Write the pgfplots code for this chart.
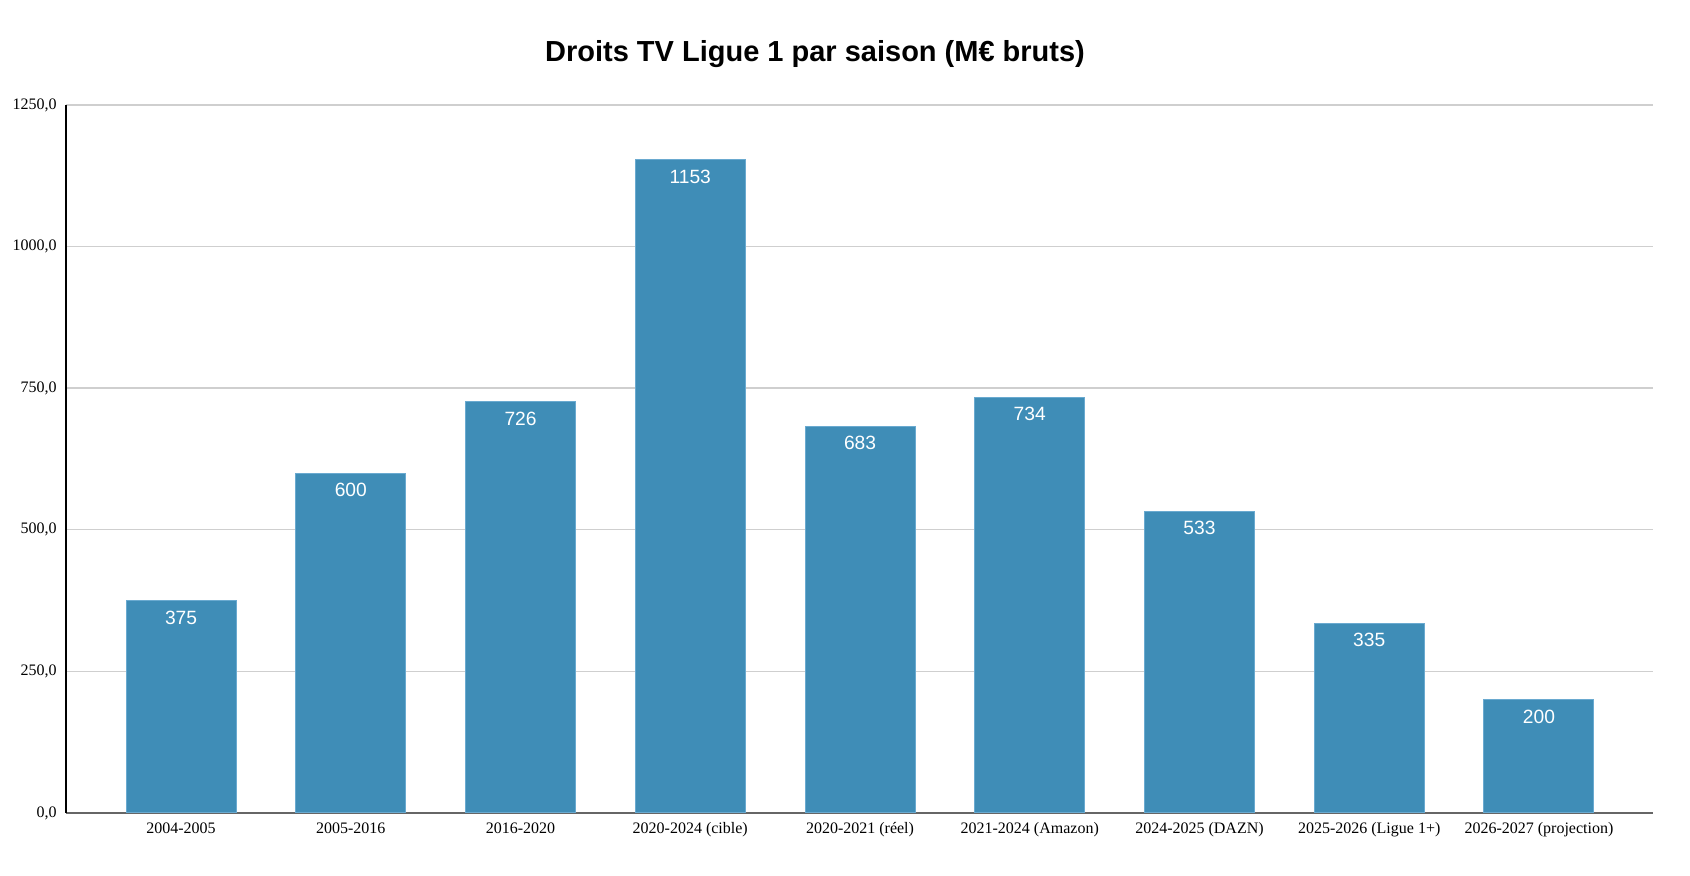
\documentclass[border=0pt]{standalone}
\usepackage{pgfplots}
\pgfplotsset{compat=1.18}
\usepackage{fontspec}
\setmainfont{Liberation Serif}
\newfontfamily\arial{Liberation Sans}
\definecolor{barblue}{HTML}{3F8DB7}
\definecolor{baredge}{HTML}{6AAAD0}
\definecolor{gridgray}{HTML}{CFCFCF}
\definecolor{axisgray}{HTML}{666666}
\begin{document}
\begin{tikzpicture}
\begin{axis}[
  at={(0,0)}, anchor=south west,
  scale only axis,
  width=793.5pt, height=354pt,
  xmin=-0.678, xmax=8.672,
  ymin=0, ymax=1250,
  ybar, bar width=55pt,
  axis x line*=bottom, axis y line*=left,
  x axis line style={draw=axisgray, line width=0.9pt, -},
  y axis line style={draw=black, line width=0.8pt, -},
  major tick length=0pt,
  xtick={0,...,8},
  xticklabels={2004-2005,2005-2016,2016-2020,2020-2024 (cible),2020-2021 (réel),2021-2024 (Amazon),2024-2025 (DAZN),2025-2026 (Ligue 1+),2026-2027 (projection)},
  ytick={0,250,500,750,1000,1250},
  ymajorgrids, grid style={draw=gridgray, line width=0.7pt},
  /pgf/number format/assume math mode=true,
  yticklabel style={font=\fontsize{8}{9}\selectfont, anchor=east, inner sep=0pt, xshift=-4.5pt,
    /pgf/number format/.cd, fixed, fixed zerofill, precision=1, use comma, 1000 sep={}},
  xticklabel style={font=\fontsize{8}{9}\selectfont, anchor=north, inner sep=0pt, yshift=-4.5pt},
  nodes near coords={\pgfmathprintnumber[fixed,precision=0,1000 sep={}]{\pgfplotspointmeta}},
  every node near coord/.append style={anchor=center, yshift=-8.5pt, font=\arial\fontsize{9.6}{10}\selectfont, text=white},
  clip=false,
]
\addplot[fill=barblue, draw=baredge, line width=0.5pt] coordinates {
  (0,375) (1,600) (2,726) (3,1153) (4,683) (5,734) (6,533) (7,335) (8,200)
};
\end{axis}
\node[anchor=base, font=\arial\bfseries\fontsize{14.5}{17}\selectfont, inner sep=0pt] at (374.5pt,375.5pt) {Droits TV Ligue 1 par saison (M€ bruts)};
\path[use as bounding box] (-33pt,-31.5pt) rectangle (812pt,406.5pt);
\end{tikzpicture}
\end{document}
